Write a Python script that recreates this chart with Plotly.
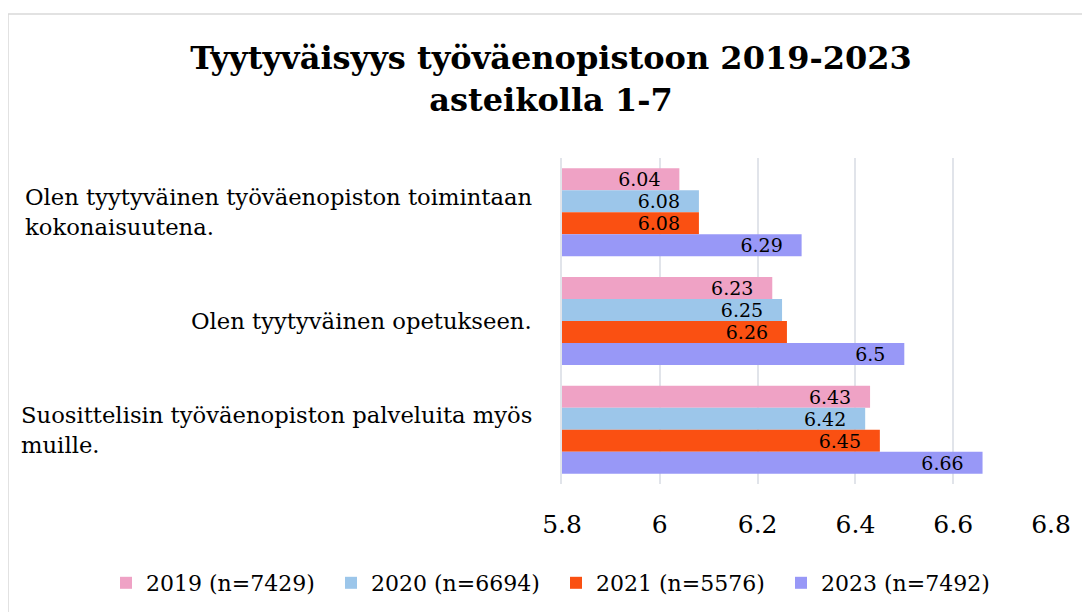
import plotly.graph_objects as go

categories = [
    "Olen tyytyväinen työväenopiston toimintaan<br>kokonaisuutena.",
    "Olen tyytyväinen opetukseen.",
    "Suosittelisin työväenopiston palveluita myös<br>muille.",
]
series_names = ["2019 (n=7429)", "2020 (n=6694)", "2021 (n=5576)", "2023 (n=7492)"]
values_2019 = [6.04, 6.23, 6.43]
values_2020 = [6.08, 6.25, 6.42]
values_2021 = [6.08, 6.26, 6.45]
values_2023 = [6.29, 6.5, 6.66]
tick_vals = [5.8, 6.0, 6.2, 6.4, 6.6, 6.8]
tick_text = ["5.8", "6", "6.2", "6.4", "6.6", "6.8"]

colors = ["#EFA2C5", "#9CC6EA", "#FA5012", "#9898F7"]
all_values = [values_2019, values_2020, values_2021, values_2023]

FONT = "DejaVu Serif"
# page body has an 8px default margin, so figure is 8px smaller than window
W, H = 1082, 604
ML, MR, MT, MB = 554, 39, 150, 128
pw = W - ML - MR
ph = H - MT - MB


def px_x(x):
    return (x - ML) / pw


def px_y(y):
    return (H - MB - y) / ph


fig = go.Figure()
for name, vals, col in zip(series_names, all_values, colors):
    fig.add_trace(go.Bar(
        y=categories, x=vals, name=name, orientation="h",
        marker=dict(color=col, line=dict(width=0)),
        text=[f"{v:g}\u00a0\u00a0\u2009" for v in vals],
        textposition="inside", insidetextanchor="end", constraintext="none",
        textfont=dict(family=FONT, size=19, color="black"),
        cliponaxis=False,
    ))

for cat in categories:
    fig.add_annotation(
        x=px_x(526), xref="paper", xanchor="right",
        y=cat, yref="y", yanchor="middle",
        text=cat, align="left", showarrow=False,
        font=dict(family=FONT, size=22.7, color="black"),
    )

fig.add_shape(type="rect", xref="paper", yref="paper",
              x0=px_x(0), x1=px_x(W + 5),
              y0=px_y(H + 5), y1=px_y(6),
              line=dict(color="#D9D9D9", width=1.5), fillcolor="rgba(0,0,0,0)", layer="below")

fig.update_layout(
    width=W, height=H,
    margin=dict(l=ML, r=MR, t=MT, b=MB, autoexpand=False),
    paper_bgcolor="white", plot_bgcolor="white",
    barmode="group", bargap=0.19, bargroupgap=0,
    title=dict(
        text="<b>Tyytyväisyys työväenopistoon 2019-2023<br>asteikolla 1-7</b>",
        x=543 / W, xanchor="center", xref="container",
        y=1 - 61 / H, yanchor="top", yref="container",
        font=dict(family=FONT, size=32, color="black"),
    ),
    xaxis=dict(
        range=[5.8, 6.8], tickvals=tick_vals, ticktext=tick_text,
        showgrid=True, gridcolor="#E1E4EA", gridwidth=2,
        zeroline=False, showline=False, ticks="",
        ticklabelstandoff=23,
        tickfont=dict(family=FONT, size=25, color="black"),
    ),
    yaxis=dict(
        autorange="reversed", showticklabels=False, ticks="",
        showgrid=False, zeroline=False,
        showline=True, linecolor="#E1E4EA", linewidth=2,
    ),
    legend=dict(
        orientation="h", traceorder="normal",
        x=px_x(98), xanchor="left", xref="paper",
        y=px_y(575), yanchor="middle", yref="paper",
        font=dict(family=FONT, size=22, color="black"),
        entrywidth=180, entrywidthmode="pixels",
    ),
    showlegend=True,
)

fig.write_html("out.html")
